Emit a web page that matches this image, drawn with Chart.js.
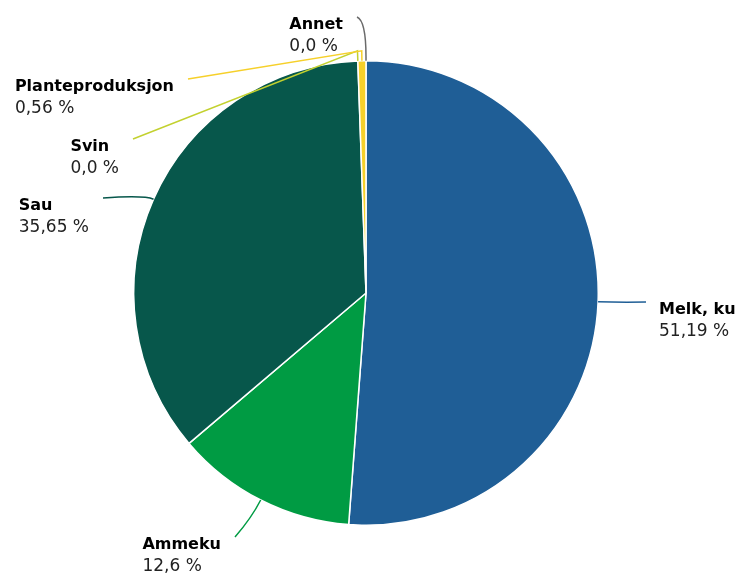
<!DOCTYPE html>
<html><head><meta charset="utf-8">
<script src="https://cdn.jsdelivr.net/npm/chart.js@4"></script>
<style>html,body{margin:0;padding:0;background:#fff}#wrap{width:740px;height:574px;position:relative}</style>
</head><body><div id="wrap"><canvas id="c" width="740" height="574"></canvas></div>
<script>
// ---- data ----
const categories = ['Melk, ku', 'Ammeku', 'Sau', 'Svin', 'Planteproduksjon', 'Annet'];
const values = [51.19, 12.6, 35.65, 0.0, 0.56, 0.0];
const valueLabels = ['51,19 %', '12,6 %', '35,65 %', '0,0 %', '0,56 %', '0,0 %'];
const colors = ['#1f5e96', '#009b43', '#07574b', '#c3d12f', '#f6d02a', '#6a6a6a'];

// ---- label layout (connector end point, side, crook) ----
const labelLayout = [
  { ex: 646, ey: 302, side: 'right', d1: 0,  d2: 20 },
  { ex: 235, ey: 537, side: 'left',  d1: 0,  d2: 20 },
  { ex: 103, ey: 198, side: 'left',  d1: 0,  d2: 10 },
  { ex: 133, ey: 139, side: 'left',  d1: 10, d2: 0 },
  { ex: 188, ey: 79,  side: 'left',  d1: 10, d2: 0 },
  { ex: 357, ey: 17,  side: 'left',  d1: 4,  d2: 40 }
];

const labelPlugin = {
  id: 'pieLabels',
  afterDraw(chart) {
    const ctx = chart.ctx;
    const meta = chart.getDatasetMeta(0);
    meta.data.forEach((arc, i) => {
      const p = arc.getProps(['x', 'y', 'startAngle', 'endAngle', 'outerRadius'], true);
      const mid = (p.startAngle + p.endAngle) / 2;
      const dx = Math.cos(mid), dy = Math.sin(mid);
      const sx = p.x + dx * p.outerRadius, sy = p.y + dy * p.outerRadius;
      const L = labelLayout[i];
      ctx.save();
      ctx.strokeStyle = colors[i];
      ctx.lineWidth = 1.5;
      ctx.beginPath();
      ctx.moveTo(sx, sy);
      const p1x = sx + dx * L.d1, p1y = sy + dy * L.d1;
      ctx.lineTo(p1x, p1y);
      if (L.d2 > L.d1) {
        ctx.quadraticCurveTo(sx + dx * L.d2, sy + dy * L.d2, L.ex, L.ey);
      } else {
        ctx.lineTo(L.ex, L.ey);
      }
      ctx.stroke();
      // text
      ctx.textBaseline = 'alphabetic';
      ctx.textAlign = 'left';
      const nameFont = 'bold 16px "DejaVu Sans"';
      const valFont = '17px "DejaVu Sans"';
      ctx.font = nameFont;
      const nw = ctx.measureText(categories[i]).width;
      ctx.font = valFont;
      const vw = ctx.measureText(valueLabels[i]).width;
      const bw = Math.max(nw, vw);
      const lx = L.side === 'right' ? L.ex + 13 : L.ex - 14 - bw;
      const by = L.ey + 11.5;
      ctx.font = nameFont;
      ctx.fillStyle = '#000000';
      ctx.fillText(categories[i], lx, by);
      ctx.font = valFont;
      ctx.fillStyle = '#222222';
      ctx.fillText(valueLabels[i], lx, by + 22);
      ctx.restore();
    });
  }
};

new Chart(document.getElementById('c'), {
  type: 'pie',
  data: {
    labels: categories,
    datasets: [{
      data: values,
      backgroundColor: colors,
      borderColor: '#ffffff',
      borderWidth: 1.5
    }]
  },
  options: {
    responsive: false,
    animation: false,
    layout: { padding: { top: 60, bottom: 48, left: 133, right: 141 } },
    plugins: { legend: { display: false }, tooltip: { enabled: false } }
  },
  plugins: [labelPlugin]
});
</script>
</body></html>
